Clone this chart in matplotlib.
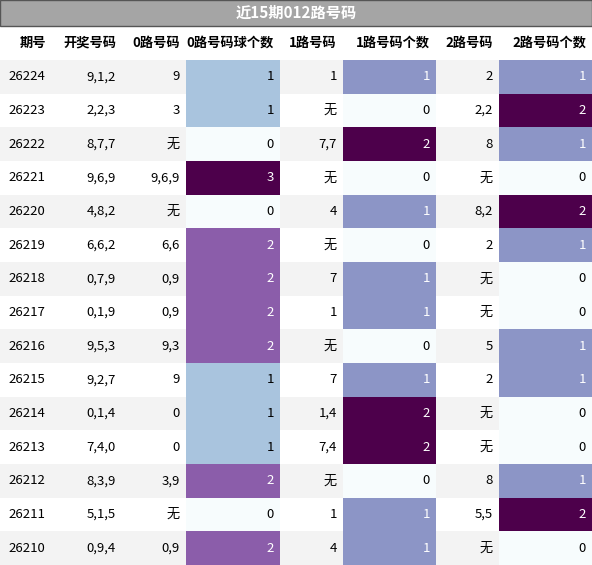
import matplotlib
matplotlib.use('Agg')
import matplotlib.pyplot as plt
import numpy as np

plt.rcParams['font.family'] = ['Noto Sans CJK SC', 'DejaVu Sans']

title = '近15期012路号码'
headers = ['期号', '开奖号码', '0路号码', '0路号码球个数', '1路号码', '1路号码个数', '2路号码', '2路号码个数']
periods = ['26224', '26223', '26222', '26221', '26220', '26219', '26218', '26217',
           '26216', '26215', '26214', '26213', '26212', '26211', '26210']
draws = ['9,1,2', '2,2,3', '8,7,7', '9,6,9', '4,8,2', '6,6,2', '0,7,9', '0,1,9',
         '9,5,3', '9,2,7', '0,1,4', '7,4,0', '8,3,9', '5,1,5', '0,9,4']
road0 = ['9', '3', '无', '9,6,9', '无', '6,6', '0,9', '0,9', '9,3', '9', '0', '0', '3,9', '无', '0,9']
cnt0 = [1, 1, 0, 3, 0, 2, 2, 2, 2, 1, 1, 1, 2, 0, 2]
road1 = ['1', '无', '7,7', '无', '4', '无', '7', '1', '无', '7', '1,4', '7,4', '无', '1', '4']
cnt1 = [1, 0, 2, 0, 1, 0, 1, 1, 0, 1, 2, 2, 0, 1, 1]
road2 = ['2', '2,2', '8', '无', '8,2', '2', '无', '无', '5', '2', '无', '无', '8', '5,5', '无']
cnt2 = [1, 2, 1, 0, 2, 1, 0, 0, 1, 1, 0, 0, 1, 2, 0]

W, H = 592, 565
edges = [0, 52, 122, 186, 280, 343, 436, 499, 592]
title_h, head_h = 26, 34
row_h = (H - title_h - head_h) / len(periods)

fig = plt.figure(figsize=(W / 100, H / 100), dpi=100)
ax = fig.add_axes([0, 0, 1, 1])
ax.set_xlim(0, W)
ax.set_ylim(H, 0)
ax.axis('off')
cmap = plt.get_cmap('BuPu')

ax.add_patch(plt.Rectangle((0, 0), W, title_h, color='#a5a5a5', ec='#555555', lw=1))
ax.text(W / 2, title_h / 2, title, ha='center', va='center', color='white',
        fontsize=11, fontweight='bold')
for j, h in enumerate(headers):
    ax.text(edges[j + 1] - 6, title_h + head_h / 2, h, ha='right', va='center',
            fontsize=9.5, fontweight='bold')

cols = [periods, draws, road0, cnt0, road1, cnt1, road2, cnt2]
heat = {3: cnt0, 5: cnt1, 7: cnt2}
for i in range(len(periods)):
    y = title_h + head_h + i * row_h
    bg = '#f3f3f3' if i % 2 == 0 else 'white'
    ax.add_patch(plt.Rectangle((0, y), W, row_h, color=bg, lw=0))
    for j, col in enumerate(cols):
        tc = 'black'
        if j in heat:
            vals = heat[j]
            v = vals[i] / max(vals)
            ax.add_patch(plt.Rectangle((edges[j], y), edges[j + 1] - edges[j], row_h,
                                       color=cmap(v), lw=0))
            if v > 0.45:
                tc = 'white'
        if j == 0:
            ax.text(edges[0] + 8, y + row_h / 2, str(col[i]), ha='left', va='center', fontsize=9.5)
        else:
            ax.text(edges[j + 1] - 6, y + row_h / 2, str(col[i]), ha='right', va='center',
                    fontsize=9.5, color=tc)

fig.savefig('out.png', dpi=100)
